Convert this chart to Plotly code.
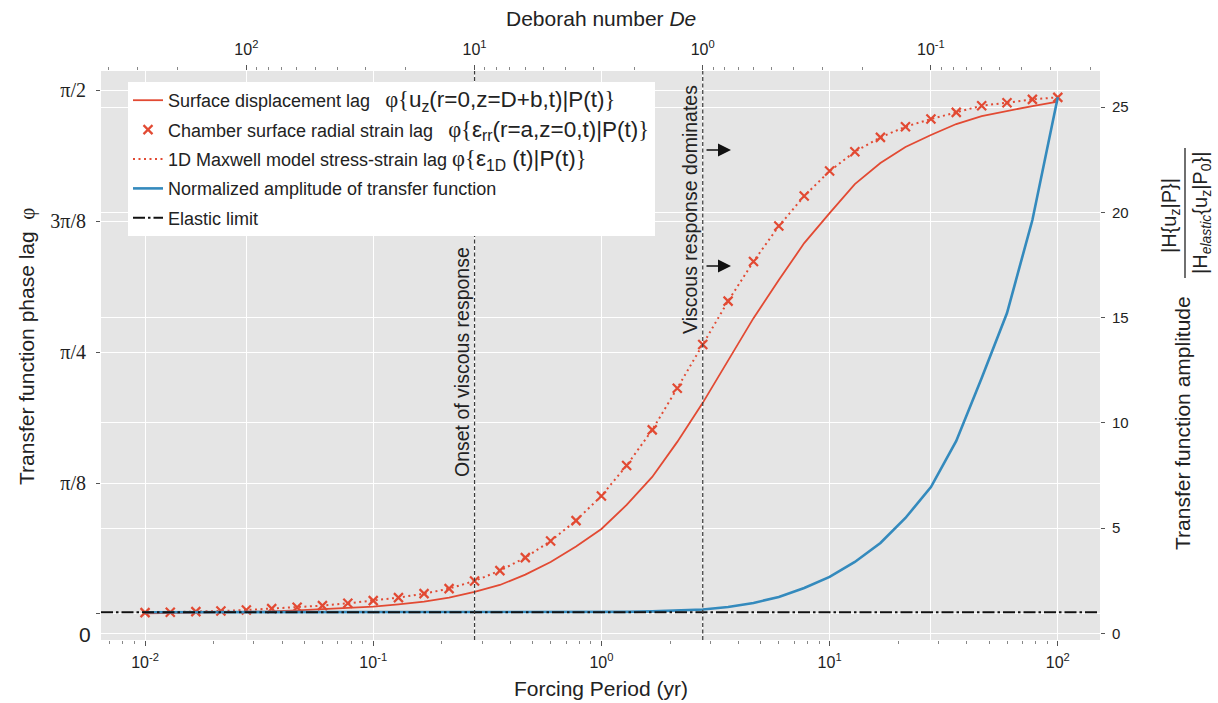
import math
import plotly.graph_objects as go

# Forcing periods (yr) at which the transfer functions were evaluated
period_yr = [0.01, 0.0129, 0.0167, 0.0215, 0.0278, 0.0359, 0.0464, 0.0599, 0.0774,
             0.1, 0.129, 0.167, 0.215, 0.278, 0.359, 0.464, 0.599, 0.774,
             1.0, 1.29, 1.67, 2.15, 2.78, 3.59, 4.64, 5.99, 7.74,
             10.0, 12.9, 16.7, 21.5, 27.8, 35.9, 46.4, 59.9, 77.4, 100.0]

# Phase lags (rad)
surface_lag = [0.002, 0.003, 0.004, 0.005, 0.007, 0.008, 0.011, 0.014, 0.018,
               0.022, 0.029, 0.037, 0.049, 0.066, 0.087, 0.118, 0.156, 0.202,
               0.255, 0.327, 0.411, 0.516, 0.633, 0.761, 0.887, 1.001, 1.112,
               1.202, 1.289, 1.352, 1.400, 1.436, 1.469, 1.493, 1.509, 1.523, 1.536]
strain_lag = [0.004, 0.005, 0.007, 0.009, 0.012, 0.016, 0.020, 0.025, 0.032,
              0.040, 0.049, 0.061, 0.076, 0.099, 0.130, 0.169, 0.219, 0.280,
              0.354, 0.445, 0.552, 0.677, 0.808, 0.938, 1.057, 1.163, 1.253,
              1.328, 1.386, 1.429, 1.461, 1.484, 1.504, 1.524, 1.533, 1.543, 1.549]
maxwell_lag = [0.004, 0.005, 0.007, 0.009, 0.012, 0.016, 0.020, 0.025, 0.032,
               0.040, 0.049, 0.061, 0.076, 0.099, 0.130, 0.169, 0.219, 0.280,
               0.354, 0.445, 0.552, 0.677, 0.808, 0.938, 1.057, 1.163, 1.253,
               1.328, 1.386, 1.429, 1.461, 1.484, 1.504, 1.524, 1.533, 1.543, 1.549]

# Normalized transfer-function amplitude
amplitude = [1.0, 1.0, 1.0, 1.0, 1.0, 1.0, 1.0, 1.0, 1.0,
             1.0, 1.0, 1.0, 1.0, 1.0, 1.0, 1.0, 1.01, 1.01,
             1.01, 1.02, 1.04, 1.07, 1.13, 1.25, 1.44, 1.73, 2.15,
             2.68, 3.39, 4.29, 5.48, 6.95, 9.14, 12.13, 15.22, 19.64, 25.47]

elastic_limit = 1.0
maxwell_time_yr = 2.78        # forcing period where De = 1
de_onset = 10.0               # onset of viscous response
de_dominant = 1.0             # viscous response dominates

period_range_log = [-2.193, 2.185]
phase_range = [-0.078, 1.628]
amp_range = [-0.318, 26.72]
de_range_log = [math.log10(maxwell_time_yr) - period_range_log[0],
                math.log10(maxwell_time_yr) - period_range_log[1]]

phase_ticks = [0, math.pi / 8, math.pi / 4, 3 * math.pi / 8, math.pi / 2]
phase_ticktext = ["", "π/8", "π/4", "3π/8", "π/2"]
amp_ticks = [0, 5, 10, 15, 20, 25]
period_ticks = [0.01, 0.1, 1, 10, 100]
period_ticktext = ["10<sup>-2</sup>", "10<sup>-1</sup>", "10<sup>0</sup>",
                   "10<sup>1</sup>", "10<sup>2</sup>"]
de_ticks = [100, 10, 1, 0.1]
de_ticktext = ["10<sup>2</sup>", "10<sup>1</sup>", "10<sup>0</sup>", "10<sup>-1</sup>"]
minor_log_ticks = [m * 10.0 ** e for e in range(-3, 3) for m in range(2, 10)]

RED = "#E24A33"
BLUE = "#348ABD"
SANS = "Liberation Sans, Arial, sans-serif"
SERIF = "Liberation Serif, Times New Roman, serif"
TXT = "#222222"
TICK = "#555555"

W, H = 1218, 703
PL, PR, PT, PB = 101, 1100, 71, 640


def px_x(px):
    return (px - PL) / (PR - PL)


def px_y(py):
    return (PB - py) / (PB - PT)


def phi(expr):
    """Phase-lag expression, set a little larger than the legend text."""
    return ('<span style="font-size:22.5px">'
            '<span style="font-family:Liberation Serif">φ{</span>'
            f'{expr}'
            '<span style="font-family:Liberation Serif">}</span></span>')


fig = go.Figure()

fig.add_trace(go.Scatter(
    x=period_yr, y=surface_lag, mode="lines",
    line=dict(color=RED, width=1.8),
    name="Surface displacement lag   " + phi("u<sub>z</sub>(r=0,z=D+b,t)|P(t)"),
    legendgroup="a"))
fig.add_trace(go.Scatter(
    x=period_yr, y=strain_lag, mode="markers",
    marker=dict(symbol="x-thin", size=9, color=RED, line=dict(color=RED, width=2.2)),
    name="Chamber surface radial strain lag   " + phi("ε<sub>rr</sub>(r=a,z=0,t)|P(t)"),
    legendgroup="b"))
fig.add_trace(go.Scatter(
    x=period_yr, y=maxwell_lag, mode="lines",
    line=dict(color=RED, width=2, dash="2px,3.5px"),
    name="1D Maxwell model stress-strain lag " + phi("ε<sub>1D</sub> (t)|P(t)"),
    legendgroup="c"))
fig.add_trace(go.Scatter(
    x=period_yr, y=amplitude, mode="lines", yaxis="y2",
    line=dict(color=BLUE, width=2.6),
    name="Normalized amplitude of transfer function",
    legendgroup="d"))
fig.add_trace(go.Scatter(
    x=[10 ** period_range_log[0], 10 ** period_range_log[1]],
    y=[elastic_limit, elastic_limit], mode="lines", yaxis="y2",
    line=dict(color="#111111", width=2, dash="12px,3px,2.5px,3px"),
    name="Elastic limit", legendgroup="e"))

# Reference Deborah numbers on the top axis
for de in (de_onset, de_dominant):
    fig.add_trace(go.Scatter(
        x=[de, de], y=phase_range, mode="lines", xaxis="x2", yaxis="y",
        line=dict(color="#3a3a3a", width=1.2, dash="4px,2.5px"),
        showlegend=False, hoverinfo="skip"))

tickfont_sans = dict(family=SANS, size=16, color=TXT)

fig.update_layout(
    width=W, height=H,
    margin=dict(l=PL, r=W - PR, t=PT, b=H - PB),
    paper_bgcolor="white", plot_bgcolor="#E5E5E5",
    showlegend=True,
    legend=dict(
        x=px_x(128), y=px_y(82), xanchor="left", yanchor="top",
        bgcolor="white", borderwidth=0,
        font=dict(family=SANS, size=18, color=TXT),
        traceorder="grouped", tracegroupgap=3,
    ),
    xaxis=dict(
        type="log", range=period_range_log,
        tickvals=period_ticks, ticktext=period_ticktext,
        tickfont=tickfont_sans, ticks="outside", ticklen=5, tickcolor=TICK,
        ticklabelstandoff=3,
        showgrid=True, gridcolor="white", gridwidth=1.2,
        zeroline=False, showline=False,
        minor=dict(tickvals=minor_log_ticks, ticks="outside", ticklen=3,
                   tickcolor="#888888", showgrid=False),
    ),
    xaxis2=dict(
        type="log", range=de_range_log, overlaying="x", side="top", anchor="y",
        tickvals=de_ticks, ticktext=de_ticktext,
        tickfont=tickfont_sans, ticks="outside", ticklen=5, tickcolor=TICK,
        ticklabelstandoff=4,
        showgrid=True, gridcolor="white", gridwidth=1.2,
        zeroline=False, showline=False,
        minor=dict(tickvals=minor_log_ticks, ticks="outside", ticklen=3,
                   tickcolor="#888888", showgrid=False),
    ),
    yaxis=dict(
        range=phase_range, tickvals=phase_ticks, ticktext=phase_ticktext,
        tickfont=dict(family=SERIF, size=20, color=TXT),
        ticks="outside", ticklen=4, tickcolor=TICK, ticklabelstandoff=6,
        showgrid=True, gridcolor="white", gridwidth=1.2,
        zeroline=False, showline=False,
    ),
    yaxis2=dict(
        range=amp_range, tickvals=amp_ticks, overlaying="y", side="right", anchor="x",
        tickfont=dict(family=SANS, size=15, color=TXT),
        ticks="outside", ticklen=4, tickcolor=TICK, ticklabelstandoff=4,
        showgrid=True, gridcolor="white", gridwidth=1.2,
        zeroline=False, showline=False,
    ),
)

ann = []
# axis titles
ann.append(dict(text="Forcing Period (yr)", x=px_x(600.5), y=px_y(688),
                font=dict(family=SANS, size=21, color=TXT)))
ann.append(dict(text="Deborah number <i>De</i>", x=px_x(600.5), y=px_y(19),
                font=dict(family=SANS, size=21, color=TXT)))
ann.append(dict(text="Transfer function phase lag  "
                     '<span style="font-family:Liberation Serif">φ</span>',
                x=px_x(27), y=px_y(346), textangle=-90,
                font=dict(family=SANS, size=21, color=TXT)))
ann.append(dict(text="Transfer function amplitude", x=px_x(1182), y=px_y(423),
                textangle=-90, font=dict(family=SANS, size=21, color=TXT)))
ann.append(dict(text="|H{u<sub>z</sub>|P}|", x=px_x(1170), y=px_y(216),
                textangle=-90, font=dict(family=SANS, size=20, color=TXT)))
ann.append(dict(text="|H<sub><i>elastic</i></sub>{u<sub>z</sub>|P<sub>0</sub>}|",
                x=px_x(1201), y=px_y(213),
                textangle=-90, font=dict(family=SANS, size=20, color=TXT)))
# zero-phase tick label
ann.append(dict(text="0", x=px_x(93), y=px_y(634), xanchor="right",
                font=dict(family=SANS, size=21, color=TXT)))
# regime labels
ann.append(dict(text="Onset of viscous response", x=px_x(462), y=px_y(362),
                textangle=-90, font=dict(family=SANS, size=19.5, color=TXT)))
ann.append(dict(text="Viscous response dominates", x=px_x(690), y=px_y(210),
                textangle=-90, font=dict(family=SANS, size=19.5, color=TXT)))
for a in ann:
    a.setdefault("xref", "paper")
    a.setdefault("yref", "paper")
    a.setdefault("showarrow", False)
    a.setdefault("xanchor", "center")
    a.setdefault("yanchor", "middle")

# arrows pointing towards the viscous regime
for ya in (150, 266):
    ann.append(dict(x=px_x(731), y=px_y(ya), ax=-26, ay=0,
                    xref="paper", yref="paper", axref="pixel", ayref="pixel",
                    text="", showarrow=True, arrowhead=2, arrowsize=2,
                    arrowwidth=1.3, arrowcolor="#111111"))

fig.update_layout(annotations=ann)

# fraction bar of the amplitude label
fig.add_shape(type="line", xref="paper", yref="paper",
              x0=px_x(1185), x1=px_x(1185), y0=px_y(148), y1=px_y(278),
              line=dict(color=TXT, width=1.3))

fig.write_html("out.html")
